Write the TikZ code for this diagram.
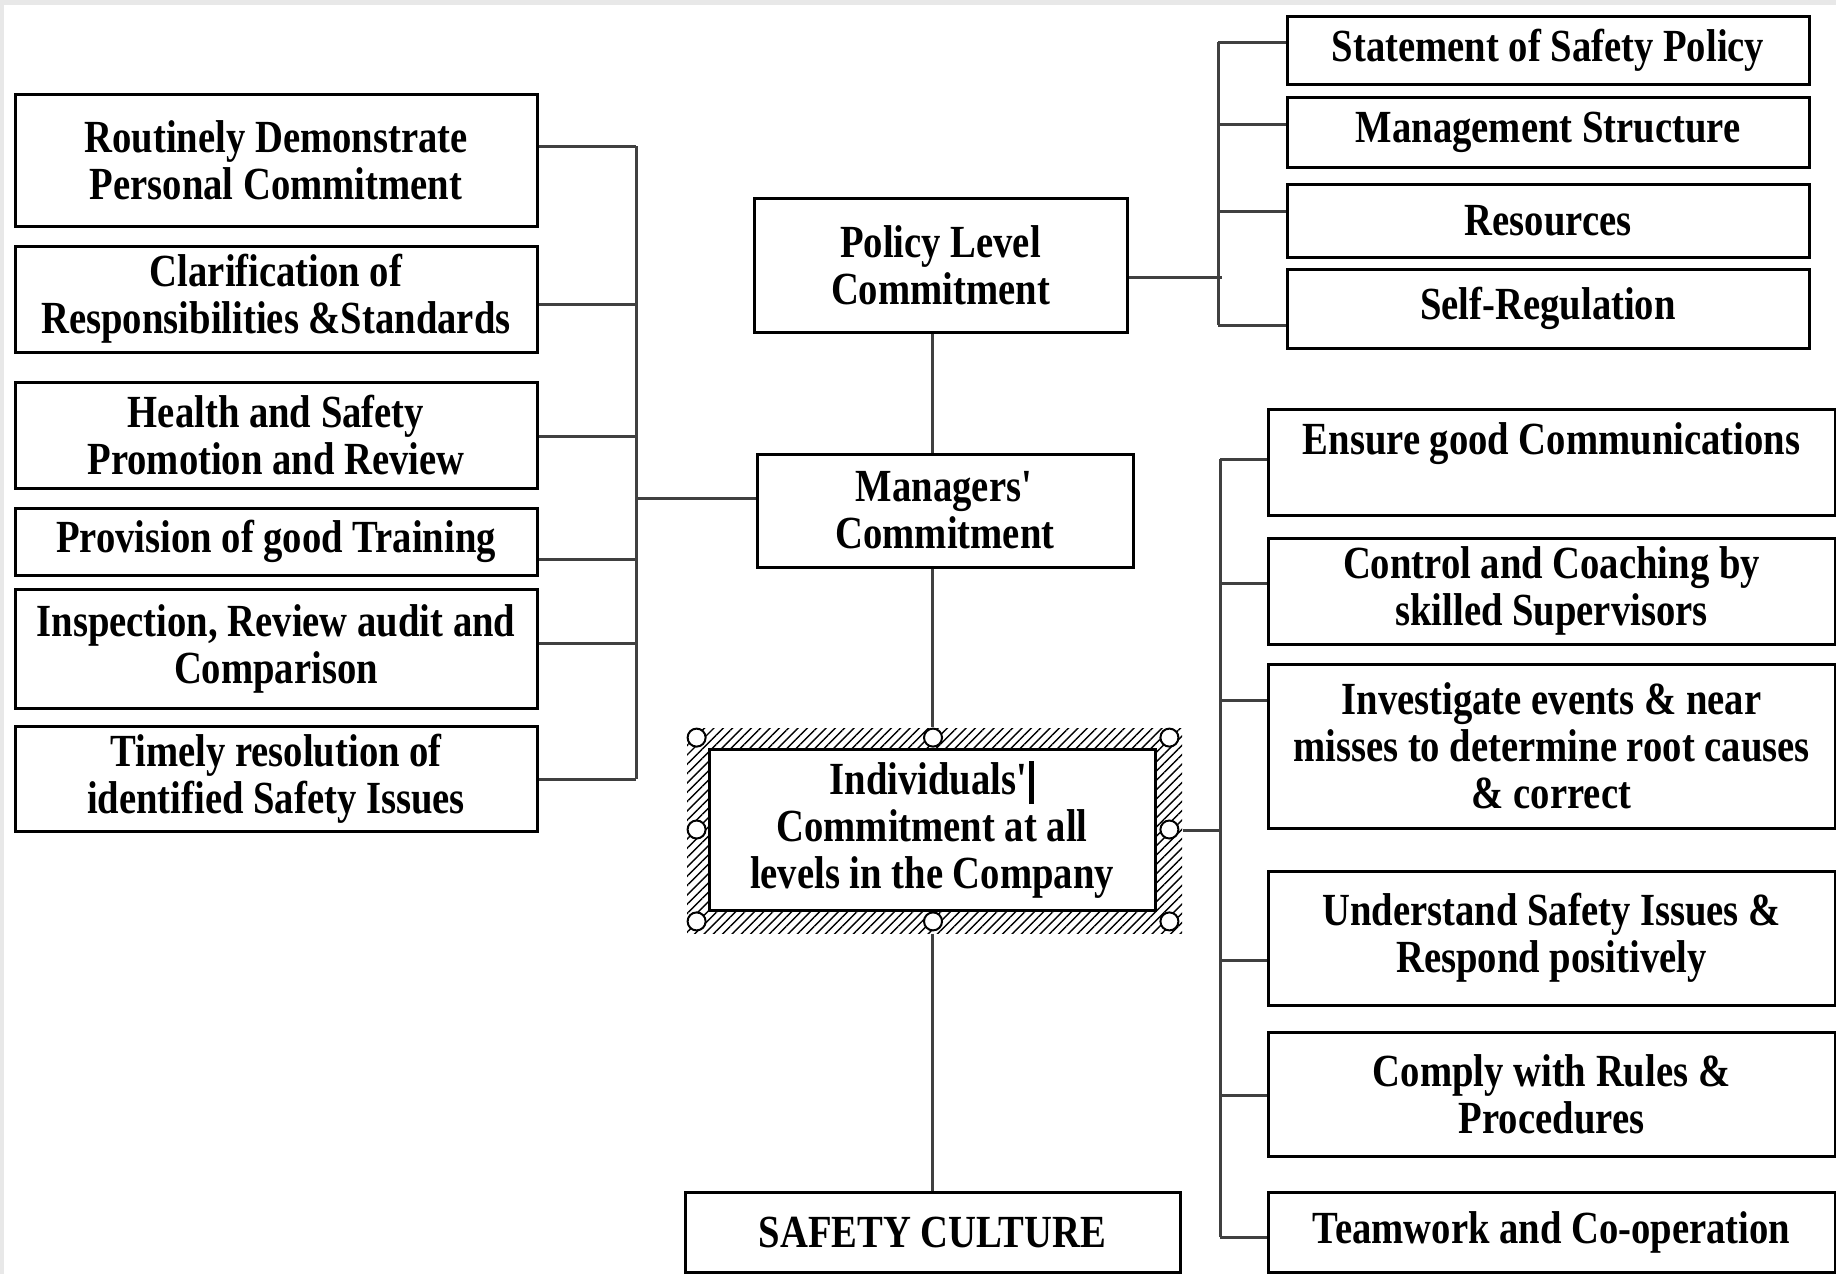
\documentclass[tikz,border=0pt]{standalone}
\usepackage{fontspec}
\setmainfont[FakeStretch=0.84]{Liberation Serif}
\usetikzlibrary{patterns.meta}

\begin{document}
\begin{tikzpicture}[x=0.5pt, y=-0.5pt]
      \tikzset{
  every box/.style={
    rectangle,
    draw,
    line width=1.5pt,
    fill=white,
    inner sep=2pt,
    align=center,
    font=\fontsize{23pt}{23.5pt}\selectfont\bfseries
  },
  left box/.style={every box, minimum width=261pt},
  top box/.style={every box, minimum width=261pt},
  low box/.style={every box, minimum width=283.5pt},
  link/.style={draw=black!75, line width=1.5pt},
  handle/.style={draw, line width=1pt, fill=white}
}

% screen frame
\fill[black!9] (0,0) rectangle (1836,1274);
\fill[white] (4,5) rectangle (1836,1274);
\useasboundingbox (0,0) rectangle (1836,1274);

% left column
\foreach \cy/\h/\txt [count=\i] in {
  160/132/{Routinely Demonstrate\\Personal Commitment},
  299/106/{Clarification of\\Responsibilities \&Standards},
  435/106/{Health and Safety\\Promotion and Review},
  541.5/67/{Provision of good Training},
  648.5/119/{Inspection, Review audit and\\Comparison},
  778.5/105/{Timely resolution of\\identified Safety Issues}}
  \node [left box, minimum height=\h*0.5pt] (left-\i) at (276,\cy) {\txt};

% middle column
\node [every box, minimum width=186.5pt, minimum height=67pt] (policy) at (940.5,265) {Policy Level\\Commitment};
\node [every box, minimum width=188pt, minimum height=56.5pt] (managers) at (945,510.5) {Managers\textquotesingle\\Commitment};
\node [pattern={Lines[angle=45,distance=3.3pt,line width=0.7pt]}, minimum width=247.5pt, minimum height=102.5pt, inner sep=0pt] (sel) at (934.5,830.5) {};
\node [every box, minimum width=223pt, minimum height=80.5pt] (individuals) at (932,829.5) {Individuals\textquotesingle\rule[-5pt]{2.5pt}{21.5pt}\\Commitment at all\\levels in the Company};
\node [minimum width=236pt, minimum height=91.5pt, inner sep=0pt] (grip) at (933,829.5) {};
\foreach \a in {north west,north,north east,east,south east,south,south west,west}
  \draw [handle] (grip.\a) circle (4.5pt);
\node [every box, minimum width=247.5pt, minimum height=40pt] (culture) at (932.5,1232) {SAFETY CULTURE};

% right column, top
\foreach \cy/\h/\txt [count=\i] in {
  50/68/{Statement of Safety Policy},
  132/70/{Management Structure},
  220.5/73/{Resources},
  308.5/79/{Self-Regulation}}
  \node [top box, minimum height=\h*0.5pt] (top-\i) at (1548,\cy) {\txt};

% right column, bottom
\foreach \cy/\h/\txt [count=\i] in {
  462/106/{Ensure good Communications\\\mbox{}},
  591/106/{Control and Coaching by\\skilled Supervisors},
  746/164/{Investigate events \& near\\misses to determine root causes\\\& correct},
  938/134/{Understand Safety Issues \&\\Respond positively},
  1094/124/{Comply with Rules \&\\Procedures},
  1232/80/{Teamwork and Co-operation}}
  \node [low box, minimum height=\h*0.5pt] (low-\i) at (1551.5,\cy) {\txt};

% buses
\coordinate (lbus-top) at (636,146);
\coordinate (lbus-bot) at (636,779);
\coordinate (tbus-top) at (1218,42);
\coordinate (tbus-bot) at (1218,325);
\coordinate (rbus-top) at (1220,459);
\coordinate (rbus-bot) at (1220,1237);
\draw [link] (lbus-top) -- (lbus-bot);
\draw [link] (tbus-top) -- (tbus-bot);
\draw [link] (rbus-top) -- (rbus-bot);

\foreach \i/\cy in {1/146,2/304,3/436,4/559,5/643,6/779}
  \draw [link] (left-\i.east |- 0,\cy) -- (lbus-top |- 0,\cy);

\foreach \i/\cy in {1/42,2/124,3/211,4/325}
  \draw [link] (tbus-top |- 0,\cy) -- (top-\i.west |- 0,\cy);

\foreach \i/\cy in {1/459,2/583,3/700,4/960,5/1095,6/1237}
  \draw [link] (rbus-top |- 0,\cy) -- (low-\i.west |- 0,\cy);

\draw [link] (managers.west |- 0,498) -- (lbus-top |- 0,498);
\draw [link] (policy.east |- 0,277) -- ([xshift=2pt]tbus-top |- 0,277);
\draw [link] (sel.east) -- (rbus-top |- sel.east);

% spine
\draw [link] (policy.south -| individuals) -- (managers.north -| individuals);
\draw [link] (managers.south -| individuals) -- (sel.north -| individuals);
\draw [link] (sel.south -| individuals) -- (culture.north -| individuals);
    \end{tikzpicture}
\end{document}
